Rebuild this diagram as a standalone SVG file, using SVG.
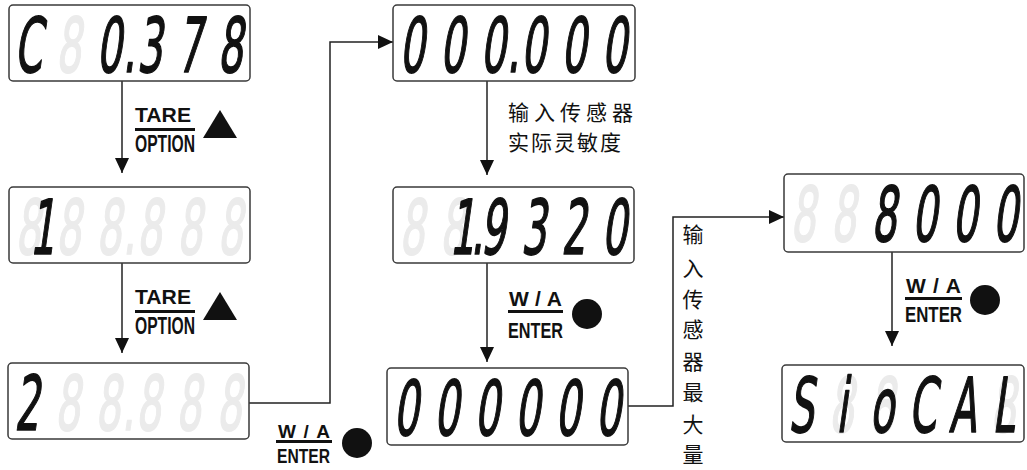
<svg xmlns="http://www.w3.org/2000/svg" width="1027" height="470" viewBox="0 0 1027 470">
<defs>
<marker id="ah" markerUnits="userSpaceOnUse" markerWidth="16" markerHeight="14" refX="15" refY="7" orient="auto"><path d="M0,0 L15,7 L0,14 Z" fill="#111"/></marker>
</defs>
<style>
.box{fill:#fff;stroke:#3a3a3a;stroke-width:1.5}
.lcd{font-family:"DejaVu Sans",sans-serif;font-size:72px;text-anchor:middle;fill:#111;stroke:#111;stroke-width:1.6;stroke-linejoin:round}
.dim{fill:#ebebeb;stroke:#ebebeb}
.conn{fill:none;stroke:#222;stroke-width:1.5}
.key{font-family:"Liberation Sans",Arial,sans-serif;font-weight:bold;fill:#111}
.bar{fill:#111}
.cn{font-family:"Noto Sans CJK SC",sans-serif;font-size:21px;fill:#111}
</style>
<rect width="1027" height="470" fill="#fff"/>

<g id="connectors">
<line class="conn" x1="122" y1="81" x2="122" y2="173" marker-end="url(#ah)"/>
<line class="conn" x1="122" y1="263" x2="122" y2="353" marker-end="url(#ah)"/>
<polyline class="conn" points="249,403 330,403 330,42 393,42" marker-end="url(#ah)"/>
<line class="conn" x1="487" y1="81" x2="487" y2="175" marker-end="url(#ah)"/>
<line class="conn" x1="487" y1="263" x2="487" y2="362" marker-end="url(#ah)"/>
<polyline class="conn" points="628,406 673,406 673,217 784,217" marker-end="url(#ah)"/>
<line class="conn" x1="892" y1="252" x2="892" y2="346" marker-end="url(#ah)"/>
</g>

<g id="display1">
<rect class="box" x="9" y="5" width="241" height="76" rx="4"/>
<g transform="translate(9,72) skewX(-8) scale(0.55,1.05)">
<text class="lcd dim" x="108">8</text>
<text class="lcd" x="34.5">C</text>
<text class="lcd" x="181.5 218.2 255 328.4 401.8">0.378</text>
</g>
</g>

<g id="display2">
<rect class="box" x="9" y="187" width="241" height="76" rx="4"/>
<g transform="translate(9,254) skewX(-8) scale(0.55,1.05)">
<text class="lcd dim" x="34.5 108 181.5 218.2 255 328.4 401.8">888.888</text>
<text class="lcd" x="60">1</text>
</g>
</g>

<g id="display3">
<rect class="box" x="8" y="363" width="241" height="76" rx="4"/>
<g transform="translate(8,430) skewX(-8) scale(0.55,1.05)">
<text class="lcd dim" x="108 181.5 218.2 255 328.4 401.8">88.888</text>
<text class="lcd" x="34.5">2</text>
</g>
</g>

<g id="display4">
<rect class="box" x="393" y="5" width="242" height="76" rx="4"/>
<g transform="translate(393,72) skewX(-8) scale(0.55,1.05)">
<text class="lcd" x="34.5 108 181.5 218.2 255 328.4 401.8">000.000</text>
</g>
</g>

<g id="display5">
<rect class="box" x="393" y="187" width="241" height="76" rx="4"/>
<g transform="translate(393,254) skewX(-8) scale(0.55,1.05)">
<text class="lcd dim" x="34.5 108">88</text>
<text class="lcd" x="125 153 181.5 255 328.4 401.8">1.9320</text>
</g>
</g>

<g id="display6">
<rect class="box" x="387" y="368" width="241" height="77" rx="4"/>
<g transform="translate(387,435) skewX(-8) scale(0.55,1.05)">
<text class="lcd" x="34.5 108 181.5 255 328.4 401.8">000000</text>
</g>
</g>

<g id="display7">
<rect class="box" x="784" y="174" width="240" height="78" rx="4"/>
<g transform="translate(784,241) skewX(-8) scale(0.55,1.05)">
<text class="lcd dim" x="34.5 108">88</text>
<text class="lcd" x="181.5 255 328.4 401.8">8000</text>
</g>
</g>

<g id="display8">
<rect class="box" x="782" y="365" width="242" height="77" rx="4"/>
<g transform="translate(782,432) skewX(-8) scale(0.55,1.05)">
<text class="lcd dim" x="108 181.5 401.8">888</text>
<text class="lcd" x="34.5 108 181.5 255 328.4 401.8">SioCAL</text>
</g>
</g>

<g id="key-tare-1">
<text class="key" x="135" y="122" font-size="20" textLength="56" lengthAdjust="spacingAndGlyphs">TARE</text>
<rect class="bar" x="135" y="128" width="60" height="3"/>
<text class="key" x="135" y="152" font-size="24" textLength="60" lengthAdjust="spacingAndGlyphs">OPTION</text>
<polygon class="bar" points="220,110 203,138 237,138"/>
</g>

<g id="key-tare-2">
<text class="key" x="135" y="304" font-size="20" textLength="56" lengthAdjust="spacingAndGlyphs">TARE</text>
<rect class="bar" x="135" y="310" width="60" height="3"/>
<text class="key" x="135" y="334" font-size="24" textLength="60" lengthAdjust="spacingAndGlyphs">OPTION</text>
<polygon class="bar" points="220,292 203,320 237,320"/>
</g>

<g id="key-enter-1">
<text class="key" x="278" y="438" font-size="19" textLength="52" lengthAdjust="spacing">W/A</text>
<rect class="bar" x="276" y="440" width="56" height="3"/>
<text class="key" x="277" y="463" font-size="21" textLength="53" lengthAdjust="spacingAndGlyphs">ENTER</text>
<circle class="bar" cx="357" cy="443" r="15"/>
</g>

<g id="key-enter-2">
<text class="key" x="509" y="306" font-size="21" textLength="53" lengthAdjust="spacing">W/A</text>
<rect class="bar" x="508" y="310" width="55" height="3"/>
<text class="key" x="508" y="338" font-size="22" textLength="55" lengthAdjust="spacingAndGlyphs">ENTER</text>
<circle class="bar" cx="587" cy="314" r="15"/>
</g>

<g id="key-enter-3">
<text class="key" x="906" y="293" font-size="21" textLength="55" lengthAdjust="spacing">W/A</text>
<rect class="bar" x="905" y="297" width="57" height="3"/>
<text class="key" x="905" y="322" font-size="22" textLength="57" lengthAdjust="spacingAndGlyphs">ENTER</text>
<circle class="bar" cx="985" cy="300" r="15"/>
</g>

<g id="label-sensitivity">
<text class="cn" x="508" y="120" letter-spacing="5">输入传感器</text>
<text class="cn" x="508" y="150" letter-spacing="2">实际灵敏度</text>
</g>

<g id="label-max">
<text class="cn" text-anchor="middle" x="693" y="242">输</text>
<text class="cn" text-anchor="middle" x="693" y="276">入</text>
<text class="cn" text-anchor="middle" x="693" y="307">传</text>
<text class="cn" text-anchor="middle" x="693" y="337">感</text>
<text class="cn" text-anchor="middle" x="693" y="369">器</text>
<text class="cn" text-anchor="middle" x="693" y="400">最</text>
<text class="cn" text-anchor="middle" x="693" y="432">大</text>
<text class="cn" text-anchor="middle" x="693" y="462">量</text>
</g>
</svg>
